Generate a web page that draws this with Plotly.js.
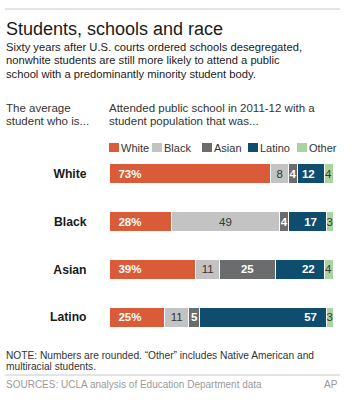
<!DOCTYPE html>
<html>
<head>
<meta charset="utf-8">
<script src="https://cdn.plot.ly/plotly-3.0.1.min.js"></script>
<style>
html,body{margin:0;padding:0;background:#fff;}
#chart{width:352px;height:400px;}
</style>
</head>
<body>
<div id="chart"></div>
<script>
// ---- data ----
var groups = ["White", "Black", "Asian", "Latino"];
var seriesNames = ["White", "Black", "Asian", "Latino", "Other"];
var whiteShare  = [73, 28, 39, 25];
var blackShare  = [8, 49, 11, 11];
var asianShare  = [4, 4, 25, 5];
var latinoShare = [12, 17, 22, 57];
var otherShare  = [4, 3, 4, 3];

var series = [whiteShare, blackShare, asianShare, latinoShare, otherShare];
var colors = ["#d95b38", "#c3c3c3", "#6b6c6e", "#0e4d6e", "#a9d3a0"];
var FONT = "Liberation Sans, Arial, sans-serif";

// layout geometry (pixels)
var W = 352, H = 400, L = 109, R = 19, T = 150, B = 59;
var PW = W - L - R, PH = H - T - B;
function X(px){ return (px - L) / PW; }
function Y(py){ return (H - B - py) / PH; }

var NB = "\u00a0";
var textStyles = [
  {color:"#ffffff", weight:"bold", anchor:"start", fmt:function(v){return NB+NB+v+"%";}},
  {color:"#333333", weight:"normal", anchor:"middle", fmt:function(v){return String(v);}},
  {color:"#ffffff", weight:"bold", anchor:"middle", fmt:function(v){return String(v);}},
  {color:"#ffffff", weight:"bold", anchor:"end", fmt:function(v){return v+NB+NB;}},
  {color:"#333333", weight:"normal", anchor:"middle", fmt:function(v){return String(v);}}
];

var traces = series.map(function(vals, i){
  return {
    type: "bar",
    orientation: "h",
    name: seriesNames[i],
    y: groups,
    x: vals,
    width: 0.42,
    marker: {color: colors[i], line: {color: "#ffffff", width: 1}},
    text: vals.map(textStyles[i].fmt),
    textposition: "inside",
    insidetextanchor: textStyles[i].anchor,
    textangle: 0,
    constraintext: "none",
    insidetextfont: {family: FONT, size: 11.5, color: textStyles[i].color, weight: textStyles[i].weight},
    hoverinfo: "skip",
    showlegend: false
  };
});

var ann = [];
var shapes = [];
function txt(t, px, py, size, color, anchor){
  ann.push({text: t, x: X(px), y: Y(py), xref: "paper", yref: "paper",
    xanchor: anchor || "left", yanchor: "middle", showarrow: false, borderpad: 0,
    font: {family: FONT, size: size, color: color}});
}
// title block
txt("Students, schools and race", 5, 28.5, 18, "#1a1a1a");
txt("Sixty years after U.S. courts ordered schools desegregated,", 5, 47, 11.2, "#1a1a1a");
txt("nonwhite students are still more likely to attend a public", 5, 60.5, 11.2, "#1a1a1a");
txt("school with a predominantly minority student body.", 5, 74, 11.2, "#1a1a1a");
// column headers
txt("The average", 5, 108, 11.5, "#333333");
txt("student who is...", 5, 121, 11.5, "#333333");
txt("Attended public school in 2011-12 with a", 108, 108, 11.5, "#333333");
txt("student population that was...", 108, 121, 11.5, "#333333");
// legend
var legX = [109, 152, 202, 248, 297];
seriesNames.forEach(function(n, i){
  shapes.push({type:"rect", xref:"paper", yref:"paper",
    x0: X(legX[i]), x1: X(legX[i] + 10), y0: Y(152), y1: Y(143),
    fillcolor: colors[i], line:{width:0}});
  txt(n, legX[i] + 11, 147.5, 11, "#333333");
});
// footer
txt("NOTE: Numbers are rounded. \u201cOther\u201d includes Native American and", 5, 355, 10.2, "#333333");
txt("multiracial students.", 5, 366.5, 10.2, "#333333");
txt("SOURCES: UCLA analysis of Education Department data", 5, 384.5, 10, "#9a9a9a");
txt("AP", 339, 384.5, 10, "#9a9a9a", "right");
// rules
shapes.push({type:"line", xref:"paper", yref:"paper", x0:X(5), x1:X(340), y0:Y(9), y1:Y(9), line:{color:"#c8c8c8", width:1}});
shapes.push({type:"line", xref:"paper", yref:"paper", x0:X(5), x1:X(340), y0:Y(375), y1:Y(375), line:{color:"#c8c8c8", width:1}});

var layout = {
  width: W, height: H,
  margin: {l: L, r: R, t: T, b: B, pad: 0},
  paper_bgcolor: "#ffffff", plot_bgcolor: "#ffffff",
  barmode: "stack",
  showlegend: false,
  font: {family: FONT},
  xaxis: {range: [0, 101], showgrid: false, zeroline: false, showticklabels: false, showline: false, fixedrange: true},
  yaxis: {
    autorange: "reversed",
    tickmode: "array", tickvals: groups, ticktext: groups.map(function(g){return "<b>"+g+"</b>";}),
    ticks: "outside", ticklen: 19, tickcolor: "rgba(0,0,0,0)",
    tickfont: {family: FONT, size: 12.2, color: "#1a1a1a"},
    showgrid: false, zeroline: false, showline: false, fixedrange: true
  },
  annotations: ann,
  shapes: shapes
};

Plotly.newPlot("chart", traces, layout, {displayModeBar: false, staticPlot: true});
</script>
</body>
</html>
